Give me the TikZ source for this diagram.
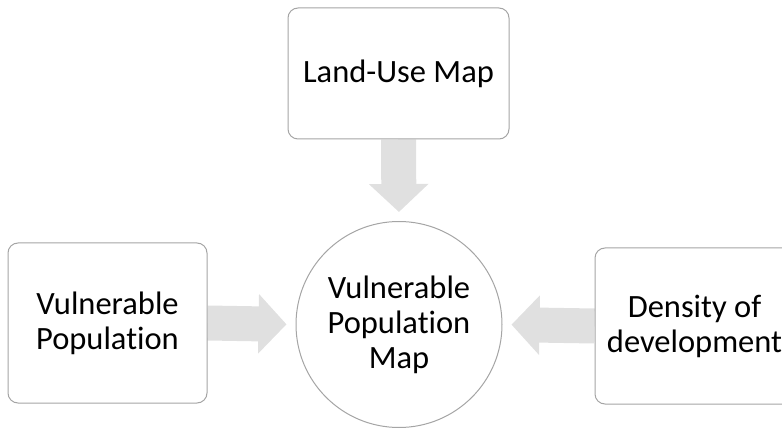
\documentclass[tikz,border=0pt]{standalone}
\usepackage{fontspec}
\setmainfont[Ligatures=NoCommon]{Carlito}
\usetikzlibrary{arrows.meta, backgrounds}
\definecolor{flowgray}{RGB}{224,224,224}
\definecolor{edgegray}{RGB}{165,165,165}

\begin{document}
\begin{tikzpicture}[x=1pt, y=-1pt,
  every node/.style={font=\fontsize{32.5}{35}\selectfont, align=center},
  box/.style={draw=edgegray, line width=1pt, rounded corners=10pt, fill=white, inner sep=0pt},
  hub/.style={circle, draw=edgegray, line width=1pt, fill=white, minimum size=206pt, inner sep=0pt},
  flow/.style={flowgray, line width=35pt, -{Triangle[length=28pt, width=58pt]}, shorten >=9pt}]
% Frame
\useasboundingbox (0,0) rectangle (782,430);
\clip (0,0) rectangle (782,430);
% Inputs
\node[box, minimum width=221pt, minimum height=131pt] (landuse) at (398.5,73.5) {Land-Use Map};
\node[box, minimum width=199pt, minimum height=160pt] (vulpop) at (107.5,323) {Vulnerable\\Population};
\node[box, minimum width=199pt, minimum height=156pt] (density) at (694.5,326) {Density of\\development};
% Result
\node[hub] (vulmap) at (399,324.5) {Vulnerable\\Population\\Map};
% Block arrows
\begin{scope}[on background layer]
\draw[flow] (landuse.south) -- (vulmap.north);
\draw[flow] (vulpop.east) -- (vulmap.west);
\draw[flow] (density.west) -- (vulmap.east);
\end{scope}
\end{tikzpicture}
\end{document}
